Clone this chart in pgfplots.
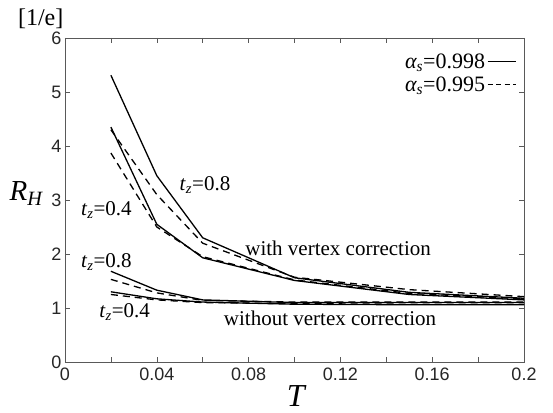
\documentclass[border=0pt]{standalone}
\usepackage{fontspec}
\setmainfont{Liberation Serif}
\setsansfont{Liberation Sans}
\usepackage{pgfplots}
\pgfplotsset{compat=1.18}

% Hall coefficient R_H vs temperature T
% solid: alpha_s = 0.998, dashed: alpha_s = 0.995
\begin{document}
\begin{tikzpicture}
\begin{axis}[
  name=ax,
  scale only axis,
  width=459pt, height=324pt,
  xmin=0, xmax=0.2, ymin=0, ymax=6,
  xtick={0,0.04,0.08,0.12,0.16,0.2},
  xticklabels={0,0.04,0.08,0.12,0.16,0.2},
  minor xtick={0.02,0.06,0.10,0.14,0.18},
  ytick={0,1,2,3,4,5,6},
  tick align=inside,
  major tick length=5pt, minor tick length=5pt,
  tick style={gray!70!black, line width=0.6pt},
  axis line style={gray!70!black, line width=0.8pt},
  tick label style={font=\sffamily\fontsize{18}{21}\selectfont, text=black!85},
  /pgf/number format/assume math mode=true,
  xticklabel style={yshift=-2pt},
  clip=false,
  legend plot pos=right,
  legend style={draw=none, fill=none, at={(0.99,0.965)}, anchor=north east,
    font=\fontsize{22}{26}\selectfont, row sep=3pt},
  legend cell align=right,
  legend image code/.code={\draw[#1, line width=1.2pt] (4pt,0pt) -- (32pt,0pt);},
]
% with vertex correction
\addplot[black, line width=1.3pt, forget plot] coordinates {
  (0.02,5.31) (0.04,3.45) (0.06,2.30) (0.10,1.56) (0.15,1.29) (0.20,1.18)};
\addplot[black, line width=1.3pt, dash pattern=on 7pt off 5pt, forget plot] coordinates {
  (0.02,4.30) (0.04,3.10) (0.06,2.20) (0.10,1.57) (0.15,1.34) (0.20,1.21)};
\addplot[black, line width=1.3pt, forget plot] coordinates {
  (0.02,4.35) (0.04,2.55) (0.06,1.93) (0.10,1.51) (0.15,1.25) (0.20,1.15)};
\addplot[black, line width=1.3pt, dash pattern=on 7pt off 5pt, forget plot] coordinates {
  (0.02,3.87) (0.04,2.50) (0.06,1.95) (0.10,1.52) (0.15,1.27) (0.20,1.17)};
% without vertex correction
\addplot[black, line width=1.3pt, forget plot] coordinates {
  (0.02,1.68) (0.04,1.33) (0.06,1.15) (0.10,1.10) (0.15,1.10) (0.20,1.10)};
\addplot[black, line width=1.3pt, dash pattern=on 7pt off 5pt, forget plot] coordinates {
  (0.02,1.53) (0.04,1.28) (0.06,1.14) (0.10,1.11) (0.15,1.11) (0.20,1.11)};
\addplot[black, line width=1.3pt, forget plot] coordinates {
  (0.02,1.30) (0.04,1.17) (0.06,1.11) (0.10,1.07) (0.15,1.06) (0.20,1.06)};
\addplot[black, line width=1.3pt, dash pattern=on 7pt off 5pt, forget plot] coordinates {
  (0.02,1.25) (0.04,1.15) (0.06,1.10) (0.10,1.08) (0.15,1.07) (0.20,1.07)};

\addlegendimage{black, solid}
\addlegendentry{{\itshape α\textsubscript{s}}=0.998}
\addlegendimage{black, dash pattern=on 5pt off 3.5pt}
\addlegendentry{{\itshape α\textsubscript{s}}=0.995}

\begin{scope}[every node/.style={font=\fontsize{21}{25}\selectfont, inner sep=0pt}]
\node at (axis cs:0.061,3.28) {\textit{t}\textsubscript{\textit{z}}=0.8};
\node at (axis cs:0.018,2.81) {\textit{t}\textsubscript{\textit{z}}=0.4};
\node at (axis cs:0.018,1.85) {\textit{t}\textsubscript{\textit{z}}=0.8};
\node at (axis cs:0.026,0.93) {\textit{t}\textsubscript{\textit{z}}=0.4};
\node at (axis cs:0.119,2.11) {with vertex correction};
\node at (axis cs:0.1155,0.81) {without vertex correction};
\end{scope}

\node[font=\fontsize{24}{28}\selectfont] at (axis description cs:-0.053,1.058) {[1/e]};
\node[font=\fontsize{29}{33}\selectfont] at (axis description cs:-0.084,0.52) {\textit{R}\textsubscript{\textit{H}}};
\node[font=\fontsize{32}{36}\selectfont, inner sep=0pt] at (axis description cs:0.505,-0.105) {\textit{T}};
\end{axis}
\path ([shift={(-65pt,-51pt)}]ax.south west) rectangle ([shift={(29pt,38pt)}]ax.north east);
\end{tikzpicture}
\end{document}
